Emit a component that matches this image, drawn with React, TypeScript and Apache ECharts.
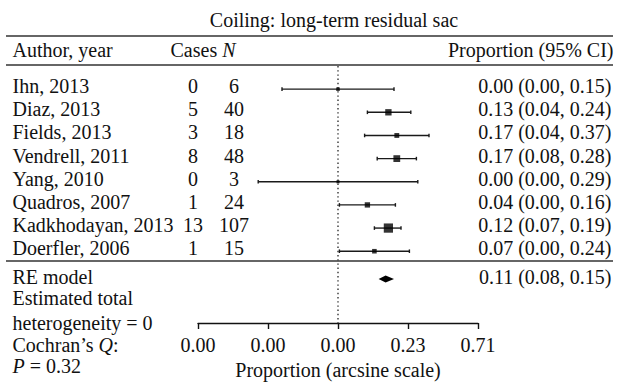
import React, { useEffect, useRef } from 'react';
import * as echarts from 'echarts';

// ---------- data ----------
const title = 'Coiling: long-term residual sac';
const authors = ['Ihn, 2013', 'Diaz, 2013', 'Fields, 2013', 'Vendrell, 2011', 'Yang, 2010', 'Quadros, 2007', 'Kadkhodayan, 2013', 'Doerfler, 2006'];
const cases = [0, 5, 3, 8, 0, 1, 13, 1];
const totals = [6, 40, 18, 48, 3, 24, 107, 15];
const proportion = [0.0, 0.13, 0.17, 0.17, 0.0, 0.04, 0.12, 0.07];
const ciLower = [0.0, 0.04, 0.04, 0.08, 0.0, 0.0, 0.07, 0.0];
const ciUpper = [0.15, 0.24, 0.37, 0.28, 0.29, 0.16, 0.19, 0.24];
// positions on the arcsine (transformed) scale
const estArcsine = [0.0, 0.36, 0.42, 0.42, 0.0, 0.21, 0.36, 0.26];
const lowArcsine = [-0.4, 0.21, 0.19, 0.28, -0.57, 0.01, 0.26, 0.01];
const highArcsine = [0.4, 0.52, 0.65, 0.56, 0.57, 0.41, 0.45, 0.51];
const pooledProportion = [0.11, 0.08, 0.15]; // estimate, lower, upper
const pooledArcsine = [0.34, 0.29, 0.4]; // estimate, lower, upper
const axisMin = -1;
const axisMax = 1;
const axisInterval = 0.5;
const xAxisName = 'Proportion (arcsine scale)';
const footerLines = ['RE model', 'Estimated total', 'heterogeneity = 0', 'Cochran\u2019s {i|Q}:', '{i|P} = 0.32'];

// ---------- layout ----------
const W = 622;
const H = 386;
const FS = 20;
const FONT = '"Liberation Serif", "Times New Roman", serif';
const ROW_MAX = 11.1;
const studyRows = authors.map((_, i) => i + 1);
const pooledRow = 9.2;
const titleRow = -1.84;
const headerRow = -0.56;
const footerRows = [9.23, 10.15, 11.21, 12.2, 13.07];
const COL_AUTHOR = 12;
const COL_CASES = 193;
const COL_N = 234;
const COL_CI = 612;
const fmt = (v: number) => v.toFixed(2);

function textSeries(items: { x: number; y: number; text: string }[], align: 'left' | 'center' | 'right') {
  return {
    type: 'scatter',
    xAxisIndex: 1,
    yAxisIndex: 1,
    symbolSize: 1,
    itemStyle: { color: 'rgba(0,0,0,0)' },
    clip: false,
    silent: true,
    z: 5,
    data: items.map((it) => ({ value: [it.x, it.y], name: it.text })),
    label: {
      show: true,
      position: align === 'left' ? 'right' : align === 'right' ? 'left' : 'inside',
      distance: 0,
      formatter: '{b}',
      color: '#111',
      opacity: 1,
      fontSize: FS,
      fontFamily: FONT,
      rich: {
        i: { fontStyle: 'italic', fontSize: FS, fontFamily: FONT, color: '#111' },
      },
    },
    labelLayout: { hideOverlap: false },
  };
}

export default function App() {
  const ref = useRef<HTMLDivElement>(null);
  useEffect(() => {
    const chart = echarts.init(ref.current!, null, { renderer: 'svg' });
    const ruleStyle = { stroke: '#333', lineWidth: 1.7 };
    const option: any = {
      animation: false,
      backgroundColor: '#fff',
      grid: [
        { left: 198, right: W - 478, top: 66, bottom: H - 66 - 257 },
        { left: 0, right: 0, top: 63, bottom: H - 63 - 257 },
      ],
      xAxis: [
        {
          gridIndex: 0,
          type: 'value',
          position: 'bottom',
          min: axisMin,
          max: axisMax,
          interval: axisInterval,
          axisLine: { show: true, onZero: false, lineStyle: { color: '#111', width: 1.4 } },
          axisTick: { show: true, length: 6, lineStyle: { color: '#111', width: 1.4 } },
          splitLine: { show: false },
          axisLabel: {
            formatter: (v: number) => (v <= 0 ? '0.00' : fmt(Math.pow(Math.sin(v), 2))),
            margin: 12,
            fontSize: FS,
            fontFamily: FONT,
            color: '#111',
          },
          name: xAxisName,
          nameLocation: 'middle',
          nameGap: 34,
          nameTextStyle: { fontSize: FS, fontFamily: FONT, color: '#111' },
        },
        { gridIndex: 1, type: 'value', min: 0, max: W, show: false },
      ],
      yAxis: [
        { gridIndex: 0, type: 'value', inverse: true, min: 0, max: ROW_MAX, show: false },
        { gridIndex: 1, type: 'value', inverse: true, min: 0, max: ROW_MAX, show: false },
      ],
      graphic: [
        { type: 'line', shape: { x1: 6, y1: 36, x2: 613, y2: 36 }, style: ruleStyle },
        { type: 'line', shape: { x1: 6, y1: 65, x2: 613, y2: 65 }, style: ruleStyle },
        { type: 'line', shape: { x1: 6, y1: 261, x2: 613, y2: 261 }, style: ruleStyle },
      ],
      series: [
        {
          type: 'line',
          xAxisIndex: 0,
          yAxisIndex: 0,
          data: [
            [0, 0],
            [0, ROW_MAX],
          ],
          symbol: 'none',
          silent: true,
          lineStyle: { color: '#333', width: 1.4, type: [1.4, 2.8] },
          z: 1,
        },
        {
          type: 'custom',
          xAxisIndex: 0,
          yAxisIndex: 0,
          silent: true,
          encode: { x: [1, 2], y: 0 },
          data: studyRows.map((r, i) => [r, lowArcsine[i], highArcsine[i]]),
          renderItem: (params: any, api: any) => {
            const y = api.value(0);
            const p1 = api.coord([api.value(1), y]);
            const p2 = api.coord([api.value(2), y]);
            const cap = 1.8;
            const st = { stroke: '#1a1a1a', lineWidth: 1.4 };
            return {
              type: 'group',
              children: [
                { type: 'line', shape: { x1: p1[0], y1: p1[1], x2: p2[0], y2: p2[1] }, style: st },
                { type: 'line', shape: { x1: p1[0], y1: p1[1] - cap, x2: p1[0], y2: p1[1] + cap }, style: st },
                { type: 'line', shape: { x1: p2[0], y1: p2[1] - cap, x2: p2[0], y2: p2[1] + cap }, style: st },
              ],
            };
          },
          z: 2,
        },
        {
          type: 'scatter',
          xAxisIndex: 0,
          yAxisIndex: 0,
          silent: true,
          symbol: 'rect',
          symbolSize: (_v: any, p: any) => 1.8 + 0.72 * Math.sqrt(totals[p.dataIndex]),
          itemStyle: { color: '#000' },
          data: studyRows.map((r, i) => [estArcsine[i], r]),
          z: 3,
        },
        {
          type: 'custom',
          xAxisIndex: 0,
          yAxisIndex: 0,
          silent: true,
          encode: { x: [1, 2, 3], y: 0 },
          data: [[pooledRow, pooledArcsine[1], pooledArcsine[0], pooledArcsine[2]]],
          renderItem: (params: any, api: any) => {
            const y = api.value(0);
            const l = api.coord([api.value(1), y]);
            const e = api.coord([api.value(2), y]);
            const h = api.coord([api.value(3), y]);
            const hh = 3.5;
            return {
              type: 'polygon',
              shape: { points: [[l[0], l[1]], [e[0], e[1] - hh], [h[0], h[1]], [e[0], e[1] + hh]] },
              style: { fill: '#000' },
            };
          },
          z: 3,
        },
        textSeries([{ x: 334, y: titleRow, text: title }], 'center'),
        textSeries(
          [
            { x: COL_AUTHOR, y: headerRow, text: 'Author, year' },
            { x: 170, y: headerRow, text: 'Cases {i|N}' },
            ...authors.map((a, i) => ({ x: COL_AUTHOR, y: studyRows[i], text: a })),
            ...footerLines.map((t, i) => ({ x: COL_AUTHOR, y: footerRows[i], text: t })),
          ],
          'left'
        ),
        textSeries(
          [
            ...cases.map((c, i) => ({ x: COL_CASES, y: studyRows[i], text: String(c) })),
            ...totals.map((n, i) => ({ x: COL_N, y: studyRows[i], text: String(n) })),
          ],
          'center'
        ),
        textSeries(
          [
            { x: COL_CI + 2, y: headerRow, text: 'Proportion (95% CI)' },
            ...proportion.map((p, i) => ({
              x: COL_CI,
              y: studyRows[i],
              text: `${fmt(p)} (${fmt(ciLower[i])}, ${fmt(ciUpper[i])})`,
            })),
            {
              x: COL_CI,
              y: footerRows[0],
              text: `${fmt(pooledProportion[0])} (${fmt(pooledProportion[1])}, ${fmt(pooledProportion[2])})`,
            },
          ],
          'right'
        ),
      ],
    };
    chart.setOption(option);
    return () => chart.dispose();
  }, []);
  return (
    <div
      ref={ref}
      style={{ position: 'fixed', left: 0, top: 0, width: W, height: H, background: '#fff' }}
    />
  );
}
